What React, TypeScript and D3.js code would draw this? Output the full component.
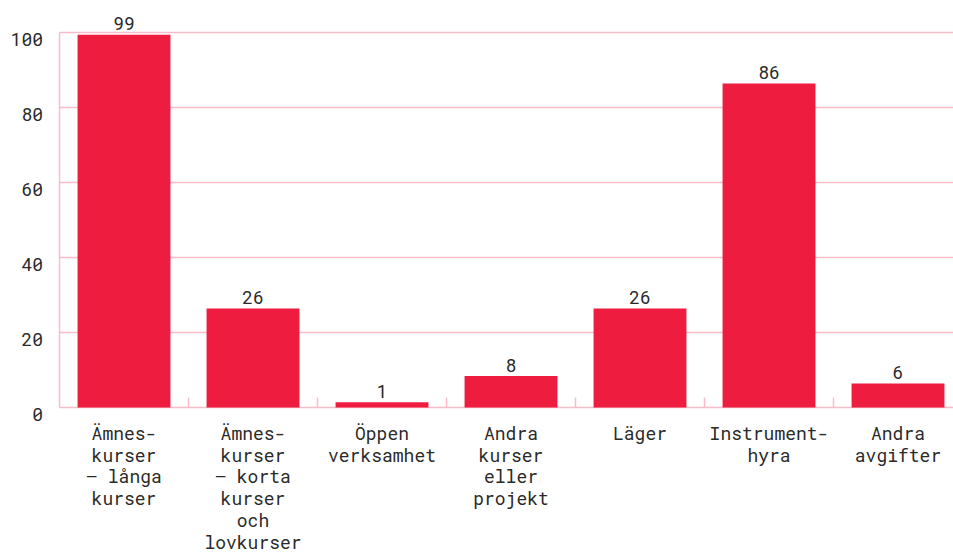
import React from "react";
import * as d3 from "d3";

const categories: string[][] = [
  ["Ämnes-", "kurser", "– långa", "kurser"],
  ["Ämnes-", "kurser", "– korta", "kurser", "och", "lovkurser"],
  ["Öppen", "verksamhet"],
  ["Andra", "kurser", "eller", "projekt"],
  ["Läger"],
  ["Instrument-", "hyra"],
  ["Andra", "avgifter"],
];
const values: number[] = [99, 26, 1, 8, 26, 86, 6];
const yTicks: number[] = [0, 20, 40, 60, 80, 100];

const W = 953;
const H = 556;
const margin = { left: 59.5, right: -9.5, top: 32.5, bottom: 148.5 };
const FONT = "'Roboto Mono', 'Liberation Mono', 'DejaVu Sans Mono', monospace";
const BAR = "#EE1C3F";
const GRID = "#F7BCC8";
const TEXT = "#2a2a2a";

export default function App() {
  const ids = categories.map((_, i) => String(i));
  const x = d3
    .scaleBand<string>()
    .domain(ids)
    .range([margin.left, W - margin.right])
    .paddingInner(0.28)
    .paddingOuter(0.14);
  const step = x.step();
  const y = d3.scaleLinear().domain([0, 100]).range([H - margin.bottom, margin.top]);
  const y0 = y(0);

  return (
    <svg
      width={W}
      height={H}
      style={{ position: "absolute", left: 0, top: 0, display: "block" }}
      fontFamily={FONT}
    >
      {yTicks.map((t) => (
        <g key={t}>
          <line x1={margin.left} x2={W} y1={y(t)} y2={y(t)} stroke={GRID} strokeWidth={1.5} />
          <text x={43} y={y(t) + 13.5} textAnchor="end" fontSize={18} fill={TEXT}>
            {t}
          </text>
        </g>
      ))}
      <line x1={margin.left} x2={margin.left} y1={y(100)} y2={y0} stroke={GRID} strokeWidth={1.5} />
      {ids.slice(1).map((id) => {
        const bx = (x(id) as number) - (step - x.bandwidth()) / 2;
        return <line key={id} x1={bx} x2={bx} y1={y0 - 10} y2={y0} stroke={GRID} strokeWidth={1.5} />;
      })}
      {values.map((v, i) => {
        const id = ids[i];
        const bx = x(id) as number;
        return (
          <g key={id}>
            <rect x={bx} y={y(v) - 1.5} width={x.bandwidth()} height={y0 - y(v) + 1.5} fill={BAR} />
            <text
              x={bx + x.bandwidth() / 2}
              y={y(v) - 6}
              textAnchor="middle"
              fontSize={18}
              fill={TEXT}
            >
              {v}
            </text>
            <text textAnchor="middle" fontSize={18} fill={TEXT}>
              {categories[i].map((line, j) => (
                <tspan key={j} x={bx + x.bandwidth() / 2} y={440 + j * 21.7}>
                  {line}
                </tspan>
              ))}
            </text>
          </g>
        );
      })}
    </svg>
  );
}
